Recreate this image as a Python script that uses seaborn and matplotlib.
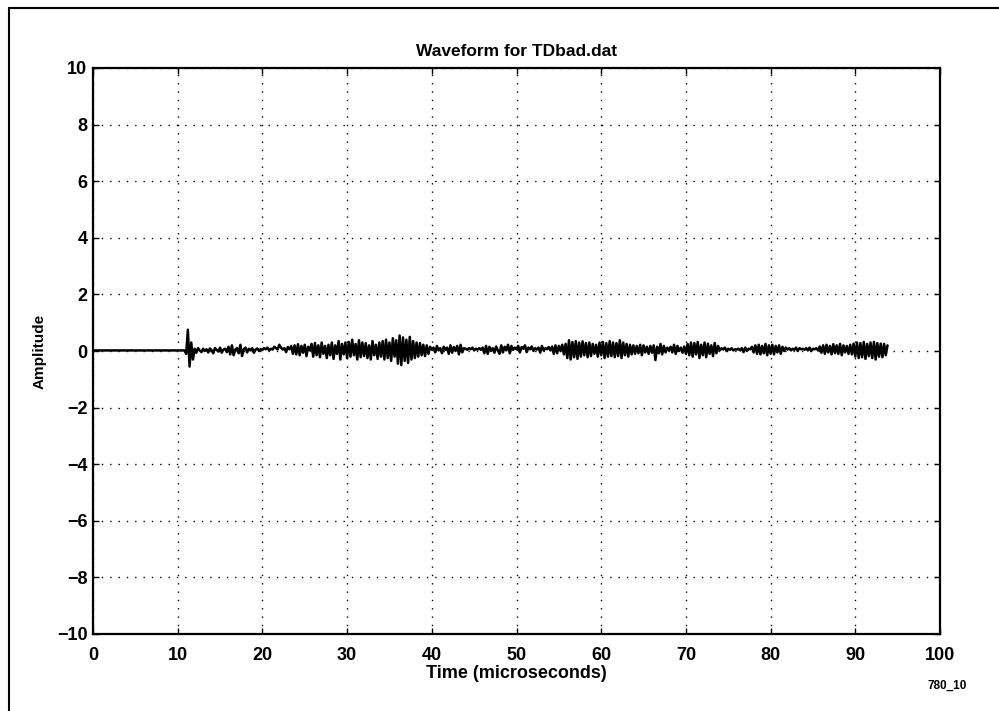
import numpy as np
import pandas as pd
import matplotlib
matplotlib.use("Agg")
import matplotlib.pyplot as plt
from matplotlib.lines import Line2D
import seaborn as sns

# ---- data ----
onset_time = [0.0, 10.8, 11.0, 11.2, 11.4, 11.6, 11.8]
onset_amp = [0.02, 0.02, -0.10, 0.75, -0.55, 0.30, -0.30]

noise_start = 12.0
noise_step = 0.2
noise_amp = [
    0.08, -0.06, 0.10, 0.02, -0.04, 0.08, 0.00, 0.06, -0.05, 0.09,
    0.03, -0.08, 0.10, 0.04, -0.02, 0.12, -0.06, 0.05, 0.08, -0.04,
    0.15, -0.12, 0.20, -0.15, 0.05, 0.10, -0.08, 0.22, -0.18, 0.06,
    0.12, -0.05, 0.08, 0.02, 0.10, -0.06, 0.05, 0.09, 0.00, 0.07,
    0.04, 0.10, 0.06, 0.12, 0.02, 0.08, 0.05, 0.15, 0.10, 0.06,
    0.22, 0.12, 0.05, 0.10, -0.04, 0.14, 0.06, 0.18, -0.10, 0.20,
    -0.12, 0.24, -0.15, 0.18, -0.06, 0.22, -0.18, 0.15, 0.02, 0.25,
    -0.20, 0.28, -0.15, 0.20, -0.22, 0.30, -0.10, 0.18, -0.25, 0.22,
    -0.15, 0.30, -0.28, 0.20, -0.10, 0.35, -0.30, 0.25, -0.12, 0.30,
    -0.25, 0.32, -0.20, 0.40, -0.15, 0.25, -0.30, 0.38, -0.22, 0.30,
    -0.18, 0.28, -0.25, 0.20, -0.30, 0.35, -0.15, 0.22, -0.28, 0.30,
    -0.20, 0.35, -0.30, 0.40, -0.25, 0.30, -0.35, 0.45, -0.20, 0.38,
    -0.45, 0.55, -0.50, 0.48, -0.35, 0.40, -0.42, 0.50, -0.30, 0.35,
    -0.25, 0.30, -0.20, 0.28, -0.15, 0.22, -0.18, 0.20, -0.10, 0.15,
    0.05, 0.12, -0.05, 0.18, 0.02, 0.10, -0.08, 0.15, 0.04, 0.12,
    -0.10, 0.20, -0.06, 0.14, 0.00, 0.18, -0.12, 0.22, -0.05, 0.10,
    0.08, 0.04, 0.10, 0.06, 0.12, 0.02, 0.08, 0.05, 0.10, 0.04,
    0.12, -0.08, 0.18, -0.10, 0.15, 0.00, 0.10, -0.06, 0.16, 0.02,
    -0.10, 0.20, -0.05, 0.15, 0.02, 0.22, -0.08, 0.18, 0.04, 0.12,
    0.06, 0.18, -0.05, 0.14, 0.08, 0.20, -0.04, 0.12, 0.06, 0.16,
    0.00, 0.10, 0.05, 0.12, -0.06, 0.18, 0.02, 0.10, 0.06, 0.14,
    0.02, 0.16, -0.10, 0.20, -0.08, 0.18, 0.00, 0.22, -0.12, 0.25,
    -0.25, 0.38, -0.30, 0.32, -0.22, 0.35, -0.28, 0.30, -0.20, 0.34,
    -0.15, 0.28, -0.22, 0.30, -0.18, 0.25, -0.10, 0.22, -0.20, 0.30,
    -0.15, 0.32, -0.25, 0.28, -0.20, 0.35, -0.18, 0.30, -0.22, 0.28,
    -0.18, 0.38, -0.25, 0.30, -0.15, 0.25, -0.20, 0.22, -0.12, 0.20,
    -0.10, 0.18, -0.08, 0.22, -0.15, 0.20, -0.05, 0.15, -0.10, 0.18,
    -0.06, 0.20, -0.32, 0.15, -0.08, 0.25, -0.12, 0.18, -0.05, 0.12,
    0.02, 0.15, -0.05, 0.22, -0.10, 0.18, 0.00, 0.12, -0.06, 0.16,
    -0.10, 0.25, -0.15, 0.30, -0.20, 0.28, -0.12, 0.32, -0.25, 0.22,
    -0.15, 0.30, -0.22, 0.26, -0.10, 0.20, -0.18, 0.28, -0.08, 0.18,
    0.02, 0.10, 0.05, 0.12, 0.00, 0.08, 0.04, 0.10, 0.02, 0.06,
    0.05, 0.08, 0.02, 0.10, -0.04, 0.12, 0.00, 0.08, 0.06, 0.15,
    -0.05, 0.20, -0.10, 0.22, -0.12, 0.18, -0.08, 0.25, -0.15, 0.20,
    -0.10, 0.22, -0.12, 0.18, -0.05, 0.20, -0.10, 0.15, 0.00, 0.12,
    0.05, 0.10, 0.02, 0.08, 0.04, 0.12, 0.00, 0.10, 0.06, 0.08,
    0.04, 0.10, 0.02, 0.12, 0.00, 0.08, 0.06, 0.10, 0.02, 0.16,
    -0.06, 0.20, -0.10, 0.22, -0.05, 0.18, -0.12, 0.24, -0.08, 0.20,
    -0.10, 0.25, -0.15, 0.20, -0.05, 0.18, -0.10, 0.22, -0.12, 0.26,
    -0.20, 0.30, -0.25, 0.28, -0.22, 0.32, -0.28, 0.25, -0.18, 0.30,
    -0.25, 0.32, -0.30, 0.28, -0.20, 0.26, -0.22, 0.25, -0.15, 0.20,
]

title = "Waveform for TDbad.dat"
xlabel = "Time (microseconds)"
ylabel = "Amplitude"
note = "780_10"
xticks = [0, 10, 20, 30, 40, 50, 60, 70, 80, 90, 100]
yticks = [-10, -8, -6, -4, -2, 0, 2, 4, 6, 8, 10]

noise_time = [noise_start + noise_step * i for i in range(len(noise_amp))]
df = pd.DataFrame({"time": onset_time + noise_time, "amp": onset_amp + noise_amp})

sns.set_style("white")
plt.rcParams["font.family"] = ["Liberation Sans", "DejaVu Sans"]
plt.rcParams["text.color"] = "black"
plt.rcParams["axes.labelcolor"] = "black"

fig = plt.figure(figsize=(9.99, 7.11), dpi=100)
ax = fig.add_axes([93 / 999, 1 - 634 / 711, 847 / 999, 566 / 711])

sns.lineplot(data=df, x="time", y="amp", ax=ax, color="black", linewidth=1.8,
             estimator=None, sort=False)

ax.set_xlim(0, 100)
ax.set_ylim(-10, 10)
ax.set_xticks(xticks)
ax.set_yticks(yticks)
ax.set_xticklabels([str(t) for t in xticks], fontsize=13, fontweight="bold")
ax.set_yticklabels(["\u2212" + str(-t) if t < 0 else str(t) for t in yticks],
                   fontsize=13, fontweight="bold")
ax.grid(True, color="black", linestyle=(0, (1, 5)), linewidth=1.0)
ax.tick_params(axis="x", pad=9)
ax.tick_params(axis="y", pad=4)
ax.tick_params(direction="in", length=4, width=1, top=True, right=True,
               bottom=True, left=True, colors="black")
for s in ax.spines.values():
    s.set_visible(True)
    s.set_color("black")
    s.set_linewidth(1.6)

ax.set_title(title, fontsize=12.5, fontweight="bold", pad=9, color="black")
ax.set_xlabel(xlabel, fontsize=13, fontweight="bold", labelpad=1, color="black")
ax.set_ylabel(ylabel, fontsize=11, fontweight="bold", labelpad=7, color="black")

fig.text(967 / 999, 1 - 686 / 711, note, fontsize=8.5, fontweight="bold",
         ha="right", va="center", color="black")

# outer frame (left and top edges visible in reference)
fig.add_artist(Line2D([9 / 999, 9 / 999], [0, 1 - 8 / 711], color="black",
                      linewidth=1.5, transform=fig.transFigure))
fig.add_artist(Line2D([9 / 999, 1.0], [1 - 8 / 711, 1 - 8 / 711], color="black",
                      linewidth=1.5, transform=fig.transFigure))

fig.savefig("out.png", dpi=100)
